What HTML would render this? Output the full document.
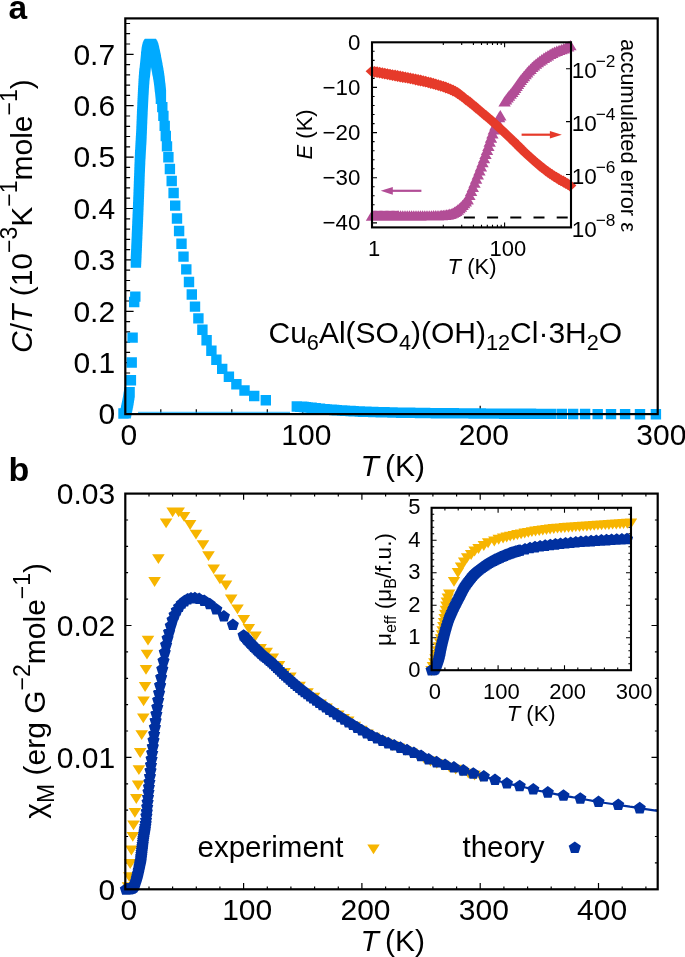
<!DOCTYPE html>
<html><head><meta charset="utf-8"><title>Figure</title>
<style>html,body{margin:0;padding:0;background:#fff;width:685px;height:957px;overflow:hidden}svg{display:block}</style>
</head><body>
<svg style="will-change:transform" width="685" height="957" viewBox="0 0 685 957"><g font-family='"Liberation Sans", sans-serif'>
<text x="8.5" y="18.6" font-size="33.5" text-anchor="start" font-weight="bold">a</text>
<text x="8.6" y="481.2" font-size="34" text-anchor="start" font-weight="bold">b</text>
<path d="M125.3 414.1L133.6 414.1M125.3 403.8L130.1 403.8M125.3 393.5L130.1 393.5M125.3 383.3L130.1 383.3M125.3 373L130.1 373M125.3 362.7L133.6 362.7M125.3 352.4L130.1 352.4M125.3 342.1L130.1 342.1M125.3 331.9L130.1 331.9M125.3 321.6L130.1 321.6M125.3 311.3L133.6 311.3M125.3 301L130.1 301M125.3 290.7L130.1 290.7M125.3 280.5L130.1 280.5M125.3 270.2L130.1 270.2M125.3 259.9L133.6 259.9M125.3 249.6L130.1 249.6M125.3 239.3L130.1 239.3M125.3 229.1L130.1 229.1M125.3 218.8L130.1 218.8M125.3 208.5L133.6 208.5M125.3 198.2L130.1 198.2M125.3 187.9L130.1 187.9M125.3 177.7L130.1 177.7M125.3 167.4L130.1 167.4M125.3 157.1L133.6 157.1M125.3 146.8L130.1 146.8M125.3 136.5L130.1 136.5M125.3 126.3L130.1 126.3M125.3 116L130.1 116M125.3 105.7L133.6 105.7M125.3 95.4L130.1 95.4M125.3 85.1L130.1 85.1M125.3 74.9L130.1 74.9M125.3 64.6L130.1 64.6M125.3 54.3L133.6 54.3M125.3 44L130.1 44M125.3 33.7L130.1 33.7M125.3 23.5L130.1 23.5M160.8 414.1L160.8 409.3M196.3 414.1L196.3 409.3M231.8 414.1L231.8 409.3M267.3 414.1L267.3 409.3M302.8 414.1L302.8 405.8M338.3 414.1L338.3 409.3M373.8 414.1L373.8 409.3M409.2 414.1L409.2 409.3M444.7 414.1L444.7 409.3M480.2 414.1L480.2 405.8M515.7 414.1L515.7 409.3M551.2 414.1L551.2 409.3M586.7 414.1L586.7 409.3M622.2 414.1L622.2 409.3" stroke="#000" stroke-width="1.2" fill="none"/>
<path d="M120.5 408.1h10.4v10.4h-10.4zM120.8 406.9h10.4v10.4h-10.4zM121 405.6h10.4v10.4h-10.4zM121.3 404.4h10.4v10.4h-10.4zM121.5 403.2h10.4v10.4h-10.4zM121.8 401.9h10.4v10.4h-10.4zM122 400.7h10.4v10.4h-10.4zM122.3 399.4h10.4v10.4h-10.4zM122.5 398.2h10.4v10.4h-10.4zM122.8 397h10.4v10.4h-10.4zM123 395.7h10.4v10.4h-10.4zM123.2 394.5h10.4v10.4h-10.4zM123.4 393.2h10.4v10.4h-10.4zM123.6 392h10.4v10.4h-10.4zM123.8 390.7h10.4v10.4h-10.4zM124 389.5h10.4v10.4h-10.4zM124.2 388.2h10.4v10.4h-10.4zM124.4 387h10.4v10.4h-10.4zM118.3 408.3h10.4v10.4h-10.4zM125.7 375.1h10.4v10.4h-10.4zM126.5 357.3h10.4v10.4h-10.4zM127.4 332.4h10.4v10.4h-10.4zM129 296.8h10.4v10.4h-10.4zM130.1 291.4h10.4v10.4h-10.4zM130.7 257.4h10.4v10.4h-10.4zM130.7 256.4h10.4v10.4h-10.4zM130.8 255.4h10.4v10.4h-10.4zM130.8 254.4h10.4v10.4h-10.4zM130.9 253.4h10.4v10.4h-10.4zM130.9 252.4h10.4v10.4h-10.4zM131 251.4h10.4v10.4h-10.4zM131 250.4h10.4v10.4h-10.4zM131.1 249.4h10.4v10.4h-10.4zM131.1 248.4h10.4v10.4h-10.4zM131.2 247.4h10.4v10.4h-10.4zM131.2 246.4h10.4v10.4h-10.4zM131.2 245.4h10.4v10.4h-10.4zM131.3 244.4h10.4v10.4h-10.4zM131.3 243.4h10.4v10.4h-10.4zM131.4 242.4h10.4v10.4h-10.4zM131.4 241.4h10.4v10.4h-10.4zM131.5 240.4h10.4v10.4h-10.4zM131.5 239.4h10.4v10.4h-10.4zM131.5 238.4h10.4v10.4h-10.4zM131.6 237.4h10.4v10.4h-10.4zM131.6 236.4h10.4v10.4h-10.4zM131.7 235.4h10.4v10.4h-10.4zM131.7 234.4h10.4v10.4h-10.4zM131.7 233.4h10.4v10.4h-10.4zM131.8 232.4h10.4v10.4h-10.4zM131.8 231.4h10.4v10.4h-10.4zM131.9 230.4h10.4v10.4h-10.4zM131.9 229.4h10.4v10.4h-10.4zM132 228.4h10.4v10.4h-10.4zM132 227.4h10.4v10.4h-10.4zM132 226.3h10.4v10.4h-10.4zM132.1 225.3h10.4v10.4h-10.4zM132.1 224.3h10.4v10.4h-10.4zM132.2 223.3h10.4v10.4h-10.4zM132.2 222.3h10.4v10.4h-10.4zM132.2 221.3h10.4v10.4h-10.4zM132.3 220.3h10.4v10.4h-10.4zM132.3 219.3h10.4v10.4h-10.4zM132.4 218.3h10.4v10.4h-10.4zM132.4 217.3h10.4v10.4h-10.4zM132.5 216.3h10.4v10.4h-10.4zM132.5 215.3h10.4v10.4h-10.4zM132.5 214.3h10.4v10.4h-10.4zM132.6 213.3h10.4v10.4h-10.4zM132.6 212.3h10.4v10.4h-10.4zM132.7 211.3h10.4v10.4h-10.4zM132.7 210.3h10.4v10.4h-10.4zM132.8 209.3h10.4v10.4h-10.4zM132.8 208.3h10.4v10.4h-10.4zM132.8 207.3h10.4v10.4h-10.4zM132.9 206.3h10.4v10.4h-10.4zM132.9 205.3h10.4v10.4h-10.4zM133 204.3h10.4v10.4h-10.4zM133 203.3h10.4v10.4h-10.4zM133 202.3h10.4v10.4h-10.4zM133.1 201.3h10.4v10.4h-10.4zM133.1 200.3h10.4v10.4h-10.4zM133.2 199.3h10.4v10.4h-10.4zM133.2 198.3h10.4v10.4h-10.4zM133.2 197.3h10.4v10.4h-10.4zM133.3 196.3h10.4v10.4h-10.4zM133.3 195.3h10.4v10.4h-10.4zM133.4 194.3h10.4v10.4h-10.4zM133.4 193.3h10.4v10.4h-10.4zM133.4 192.3h10.4v10.4h-10.4zM133.5 191.3h10.4v10.4h-10.4zM133.5 190.3h10.4v10.4h-10.4zM133.5 189.3h10.4v10.4h-10.4zM133.6 188.3h10.4v10.4h-10.4zM133.6 187.3h10.4v10.4h-10.4zM133.7 186.3h10.4v10.4h-10.4zM133.7 185.3h10.4v10.4h-10.4zM133.7 184.3h10.4v10.4h-10.4zM133.8 183.3h10.4v10.4h-10.4zM133.8 182.3h10.4v10.4h-10.4zM133.8 181.3h10.4v10.4h-10.4zM133.9 180.3h10.4v10.4h-10.4zM133.9 179.3h10.4v10.4h-10.4zM133.9 178.3h10.4v10.4h-10.4zM134 177.3h10.4v10.4h-10.4zM134 176.3h10.4v10.4h-10.4zM134.1 175.3h10.4v10.4h-10.4zM134.1 174.3h10.4v10.4h-10.4zM134.1 173.3h10.4v10.4h-10.4zM134.2 172.3h10.4v10.4h-10.4zM134.2 171.3h10.4v10.4h-10.4zM134.2 170.2h10.4v10.4h-10.4zM134.3 169.2h10.4v10.4h-10.4zM134.3 168.2h10.4v10.4h-10.4zM134.3 167.2h10.4v10.4h-10.4zM134.4 166.2h10.4v10.4h-10.4zM134.4 165.2h10.4v10.4h-10.4zM134.4 164.2h10.4v10.4h-10.4zM134.5 163.2h10.4v10.4h-10.4zM134.5 162.2h10.4v10.4h-10.4zM134.6 161.2h10.4v10.4h-10.4zM134.6 160.2h10.4v10.4h-10.4zM134.6 159.2h10.4v10.4h-10.4zM134.7 158.2h10.4v10.4h-10.4zM134.7 157.2h10.4v10.4h-10.4zM134.8 156.2h10.4v10.4h-10.4zM134.8 155.2h10.4v10.4h-10.4zM134.9 154.2h10.4v10.4h-10.4zM134.9 153.2h10.4v10.4h-10.4zM134.9 152.2h10.4v10.4h-10.4zM135 151.2h10.4v10.4h-10.4zM135 150.2h10.4v10.4h-10.4zM135.1 149.2h10.4v10.4h-10.4zM135.2 148.2h10.4v10.4h-10.4zM135.2 147.2h10.4v10.4h-10.4zM135.3 146.2h10.4v10.4h-10.4zM135.3 145.2h10.4v10.4h-10.4zM135.4 144.2h10.4v10.4h-10.4zM135.4 143.2h10.4v10.4h-10.4zM135.5 142.2h10.4v10.4h-10.4zM135.5 141.2h10.4v10.4h-10.4zM135.6 140.2h10.4v10.4h-10.4zM135.7 139.2h10.4v10.4h-10.4zM135.7 138.2h10.4v10.4h-10.4zM135.8 137.2h10.4v10.4h-10.4zM135.8 136.2h10.4v10.4h-10.4zM135.9 135.2h10.4v10.4h-10.4zM136 134.2h10.4v10.4h-10.4zM136 133.2h10.4v10.4h-10.4zM136.1 132.2h10.4v10.4h-10.4zM136.1 131.2h10.4v10.4h-10.4zM136.2 130.2h10.4v10.4h-10.4zM136.2 129.2h10.4v10.4h-10.4zM136.3 128.2h10.4v10.4h-10.4zM136.3 127.2h10.4v10.4h-10.4zM136.3 126.2h10.4v10.4h-10.4zM136.4 125.2h10.4v10.4h-10.4zM136.4 124.2h10.4v10.4h-10.4zM136.5 123.2h10.4v10.4h-10.4zM136.5 122.2h10.4v10.4h-10.4zM136.5 121.2h10.4v10.4h-10.4zM136.6 120.2h10.4v10.4h-10.4zM136.6 119.2h10.4v10.4h-10.4zM136.7 118.2h10.4v10.4h-10.4zM136.7 117.2h10.4v10.4h-10.4zM136.7 116.2h10.4v10.4h-10.4zM136.8 115.2h10.4v10.4h-10.4zM136.8 114.2h10.4v10.4h-10.4zM136.9 113.2h10.4v10.4h-10.4zM136.9 112.2h10.4v10.4h-10.4zM136.9 111.2h10.4v10.4h-10.4zM137 110.2h10.4v10.4h-10.4zM137 109.2h10.4v10.4h-10.4zM137.1 108.2h10.4v10.4h-10.4zM137.1 107.2h10.4v10.4h-10.4zM137.2 106.2h10.4v10.4h-10.4zM137.2 105.2h10.4v10.4h-10.4zM137.3 104.2h10.4v10.4h-10.4zM137.3 103.2h10.4v10.4h-10.4zM137.3 102.1h10.4v10.4h-10.4zM137.4 101.1h10.4v10.4h-10.4zM137.4 100.1h10.4v10.4h-10.4zM137.5 99.1h10.4v10.4h-10.4zM137.5 98.1h10.4v10.4h-10.4zM137.6 97.1h10.4v10.4h-10.4zM137.6 96.1h10.4v10.4h-10.4zM137.7 95.1h10.4v10.4h-10.4zM137.7 94.1h10.4v10.4h-10.4zM137.8 93.1h10.4v10.4h-10.4zM137.8 92.1h10.4v10.4h-10.4zM137.9 91.1h10.4v10.4h-10.4zM137.9 90.1h10.4v10.4h-10.4zM138 89.1h10.4v10.4h-10.4zM138 88.1h10.4v10.4h-10.4zM138.1 87.1h10.4v10.4h-10.4zM138.1 86.1h10.4v10.4h-10.4zM138.2 85.1h10.4v10.4h-10.4zM138.3 84.1h10.4v10.4h-10.4zM138.3 83.1h10.4v10.4h-10.4zM138.4 82.1h10.4v10.4h-10.4zM138.4 81.1h10.4v10.4h-10.4zM138.5 80.1h10.4v10.4h-10.4zM138.5 79.1h10.4v10.4h-10.4zM138.6 78.1h10.4v10.4h-10.4zM138.7 77.1h10.4v10.4h-10.4zM138.7 76.1h10.4v10.4h-10.4zM138.8 75.1h10.4v10.4h-10.4zM138.9 74.1h10.4v10.4h-10.4zM139 73.1h10.4v10.4h-10.4zM139 72.1h10.4v10.4h-10.4zM139.1 71.1h10.4v10.4h-10.4zM139.2 70.1h10.4v10.4h-10.4zM139.3 69.1h10.4v10.4h-10.4zM139.4 68.1h10.4v10.4h-10.4zM139.6 67.1h10.4v10.4h-10.4zM139.7 66.1h10.4v10.4h-10.4zM139.8 65.1h10.4v10.4h-10.4zM139.9 64.1h10.4v10.4h-10.4zM140 63.1h10.4v10.4h-10.4zM140.1 62.2h10.4v10.4h-10.4zM140.2 61.2h10.4v10.4h-10.4zM140.3 60.2h10.4v10.4h-10.4zM140.4 59.2h10.4v10.4h-10.4zM140.5 58.2h10.4v10.4h-10.4zM140.6 57.2h10.4v10.4h-10.4zM140.7 56.2h10.4v10.4h-10.4zM140.8 55.2h10.4v10.4h-10.4zM140.9 54.2h10.4v10.4h-10.4zM141 53.2h10.4v10.4h-10.4zM141 52.2h10.4v10.4h-10.4zM141.1 51.2h10.4v10.4h-10.4zM141.3 50.2h10.4v10.4h-10.4zM141.4 49.2h10.4v10.4h-10.4zM141.5 48.2h10.4v10.4h-10.4zM141.6 47.2h10.4v10.4h-10.4zM141.8 46.2h10.4v10.4h-10.4zM142 45.2h10.4v10.4h-10.4zM142.2 44.2h10.4v10.4h-10.4zM142.5 43.2h10.4v10.4h-10.4zM142.7 42.3h10.4v10.4h-10.4zM143.1 41.3h10.4v10.4h-10.4zM143.5 40.3h10.4v10.4h-10.4zM144.1 39.3h10.4v10.4h-10.4zM144.8 38.8h10.4v10.4h-10.4zM145.7 38.8h10.4v10.4h-10.4zM146.4 39.4h10.4v10.4h-10.4zM146.9 40.4h10.4v10.4h-10.4zM147.4 41.4h10.4v10.4h-10.4zM147.7 42.4h10.4v10.4h-10.4zM148 43.3h10.4v10.4h-10.4zM148.2 44.3h10.4v10.4h-10.4zM148.5 45.3h10.4v10.4h-10.4zM148.7 46.3h10.4v10.4h-10.4zM148.9 47.3h10.4v10.4h-10.4zM149.1 48.2h10.4v10.4h-10.4zM149.4 49.2h10.4v10.4h-10.4zM149.6 50.2h10.4v10.4h-10.4zM149.8 51.2h10.4v10.4h-10.4zM150 52.2h10.4v10.4h-10.4zM150.2 53.1h10.4v10.4h-10.4zM150.4 54.1h10.4v10.4h-10.4zM150.6 55.1h10.4v10.4h-10.4zM150.7 56.1h10.4v10.4h-10.4zM150.9 57.1h10.4v10.4h-10.4zM151.1 58.1h10.4v10.4h-10.4zM151.3 59.1h10.4v10.4h-10.4zM151.5 60h10.4v10.4h-10.4zM151.7 61h10.4v10.4h-10.4zM151.9 62h10.4v10.4h-10.4zM152.1 63h10.4v10.4h-10.4zM152.2 64h10.4v10.4h-10.4zM152.4 65h10.4v10.4h-10.4zM152.6 65.9h10.4v10.4h-10.4zM152.8 66.9h10.4v10.4h-10.4zM153 67.9h10.4v10.4h-10.4zM153.1 68.9h10.4v10.4h-10.4zM153.3 69.9h10.4v10.4h-10.4zM153.5 70.9h10.4v10.4h-10.4zM153.6 71.9h10.4v10.4h-10.4zM153.8 72.9h10.4v10.4h-10.4zM153.9 73.9h10.4v10.4h-10.4zM154 74.9h10.4v10.4h-10.4zM154.2 75.8h10.4v10.4h-10.4zM154.3 76.8h10.4v10.4h-10.4zM154.4 77.8h10.4v10.4h-10.4zM154.5 78.8h10.4v10.4h-10.4zM154.6 79.8h10.4v10.4h-10.4zM154.7 80.8h10.4v10.4h-10.4zM154.8 81.8h10.4v10.4h-10.4zM155 82.8h10.4v10.4h-10.4zM155.1 83.8h10.4v10.4h-10.4zM155.2 84.8h10.4v10.4h-10.4zM155.3 85.8h10.4v10.4h-10.4zM155.4 86.8h10.4v10.4h-10.4zM155.5 87.8h10.4v10.4h-10.4zM155.6 88.8h10.4v10.4h-10.4zM155.7 89.8h10.4v10.4h-10.4zM155.7 93.5h10.4v10.4h-10.4zM157.1 101.9h10.4v10.4h-10.4zM158.2 110.7h10.4v10.4h-10.4zM159.5 120.7h10.4v10.4h-10.4zM160.6 130.8h10.4v10.4h-10.4zM161.8 141.2h10.4v10.4h-10.4zM163.2 152.1h10.4v10.4h-10.4zM164.7 163.8h10.4v10.4h-10.4zM166.5 175.8h10.4v10.4h-10.4zM168.4 187.8h10.4v10.4h-10.4zM170 200.4h10.4v10.4h-10.4zM171.8 213.3h10.4v10.4h-10.4zM173.9 225.8h10.4v10.4h-10.4zM176.3 238.5h10.4v10.4h-10.4zM178.3 251.4h10.4v10.4h-10.4zM181.1 264.2h10.4v10.4h-10.4zM183.8 276.8h10.4v10.4h-10.4zM186.6 289.3h10.4v10.4h-10.4zM189.8 301.4h10.4v10.4h-10.4zM193.2 313.2h10.4v10.4h-10.4zM197.2 324.5h10.4v10.4h-10.4zM201.4 335.1h10.4v10.4h-10.4zM206.2 345.5h10.4v10.4h-10.4zM211.2 354.6h10.4v10.4h-10.4zM217 363.7h10.4v10.4h-10.4zM223.7 371.6h10.4v10.4h-10.4zM231.2 379h10.4v10.4h-10.4zM239.3 385.3h10.4v10.4h-10.4zM249 390.8h10.4v10.4h-10.4zM260.6 395.1h10.4v10.4h-10.4zM650.7 409h10.4v10.4h-10.4zM634.8 409h10.4v10.4h-10.4zM619.9 408.9h10.4v10.4h-10.4zM605.8 408.9h10.4v10.4h-10.4zM592.5 408.9h10.4v10.4h-10.4zM579.9 408.8h10.4v10.4h-10.4zM567.9 408.8h10.4v10.4h-10.4zM556.6 408.7h10.4v10.4h-10.4zM545.8 408.7h10.4v10.4h-10.4zM535.6 408.7h10.4v10.4h-10.4zM525.8 408.6h10.4v10.4h-10.4zM516.4 408.6h10.4v10.4h-10.4zM507.5 408.5h10.4v10.4h-10.4zM499 408.5h10.4v10.4h-10.4zM490.9 408.4h10.4v10.4h-10.4zM483 408.4h10.4v10.4h-10.4zM475.6 408.3h10.4v10.4h-10.4zM468.4 408.3h10.4v10.4h-10.4zM461.5 408.2h10.4v10.4h-10.4zM454.8 408.2h10.4v10.4h-10.4zM448.5 408.1h10.4v10.4h-10.4zM442.3 408.1h10.4v10.4h-10.4zM436.4 408h10.4v10.4h-10.4zM430.7 408h10.4v10.4h-10.4zM425.2 407.9h10.4v10.4h-10.4zM419.9 407.8h10.4v10.4h-10.4zM414.8 407.8h10.4v10.4h-10.4zM409.8 407.7h10.4v10.4h-10.4zM405 407.6h10.4v10.4h-10.4zM400.4 407.5h10.4v10.4h-10.4zM395.9 407.5h10.4v10.4h-10.4zM391.6 407.4h10.4v10.4h-10.4zM387.3 407.3h10.4v10.4h-10.4zM383.3 407.2h10.4v10.4h-10.4zM379.3 407.1h10.4v10.4h-10.4zM375.5 407h10.4v10.4h-10.4zM371.7 406.9h10.4v10.4h-10.4zM368.1 406.8h10.4v10.4h-10.4zM364.6 406.7h10.4v10.4h-10.4zM361.2 406.6h10.4v10.4h-10.4zM357.8 406.5h10.4v10.4h-10.4zM354.6 406.3h10.4v10.4h-10.4zM351.5 406.2h10.4v10.4h-10.4zM348.4 406h10.4v10.4h-10.4zM345.4 405.8h10.4v10.4h-10.4zM342.5 405.7h10.4v10.4h-10.4zM339.7 405.5h10.4v10.4h-10.4zM336.9 405.3h10.4v10.4h-10.4zM334.2 405.2h10.4v10.4h-10.4zM331.6 405h10.4v10.4h-10.4zM329 404.8h10.4v10.4h-10.4zM326.5 404.6h10.4v10.4h-10.4zM324.1 404.5h10.4v10.4h-10.4zM321.7 404.3h10.4v10.4h-10.4zM319.4 404.1h10.4v10.4h-10.4zM317.1 403.9h10.4v10.4h-10.4zM314.8 403.6h10.4v10.4h-10.4zM312.7 403.4h10.4v10.4h-10.4zM310.5 403.1h10.4v10.4h-10.4zM308.5 402.9h10.4v10.4h-10.4zM306.4 402.6h10.4v10.4h-10.4zM304.4 402.4h10.4v10.4h-10.4zM302.5 402.2h10.4v10.4h-10.4zM300.6 402h10.4v10.4h-10.4zM298.7 401.8h10.4v10.4h-10.4zM296.9 401.6h10.4v10.4h-10.4zM295.1 401.5h10.4v10.4h-10.4zM293.3 401.4h10.4v10.4h-10.4zM291.6 401.3h10.4v10.4h-10.4z" fill="#00AAFF"/>
<path d="M138 412.4H290" stroke="#00AAFF" stroke-width="1.3" stroke-opacity="0.7"/>
<rect x="125.3" y="18.4" width="532.4" height="395.7" fill="none" stroke="#000" stroke-width="2.2"/>
<text x="115.1" y="424.4" font-size="30" text-anchor="end">0</text>
<text x="115.1" y="373" font-size="30" text-anchor="end">0.1</text>
<text x="115.1" y="321.6" font-size="30" text-anchor="end">0.2</text>
<text x="115.1" y="270.2" font-size="30" text-anchor="end">0.3</text>
<text x="115.1" y="218.8" font-size="30" text-anchor="end">0.4</text>
<text x="115.1" y="167.4" font-size="30" text-anchor="end">0.5</text>
<text x="115.1" y="116" font-size="30" text-anchor="end">0.6</text>
<text x="115.1" y="64.6" font-size="30" text-anchor="end">0.7</text>
<text x="128.9" y="445.2" font-size="30" text-anchor="middle">0</text>
<text x="306.4" y="445.2" font-size="30" text-anchor="middle">100</text>
<text x="483.8" y="445.2" font-size="30" text-anchor="middle">200</text>
<text x="661.3" y="445.2" font-size="30" text-anchor="middle">300</text>
<text x="360.6" y="475.6" font-size="30"><tspan font-style="italic">T</tspan><tspan dx="-2.3"> (K)</tspan></text>
<text transform="translate(31.5,353) rotate(-90)" font-size="30"><tspan font-style="italic">C</tspan>/<tspan font-style="italic">T</tspan> (10<tspan font-size="23" dy="-14.6">−3</tspan><tspan dy="14.6">K</tspan><tspan font-size="23" dy="-14.6">−1</tspan><tspan dy="14.6">mole</tspan><tspan font-size="23" dy="-14.6">−1</tspan><tspan dy="14.6">)</tspan></text>
<text x="268.5" y="342.6" font-size="30">Cu<tspan font-size="21.7" dy="7.6">6</tspan><tspan dy="-7.6">Al(SO</tspan><tspan font-size="21.7" dy="7.6">4</tspan><tspan dy="-7.6">)(OH)</tspan><tspan font-size="21.7" dy="7.6">12</tspan><tspan dy="-7.6">Cl·3H</tspan><tspan font-size="21.7" dy="7.6">2</tspan><tspan dy="-7.6">O</tspan></text>
<rect x="372" y="42.3" width="199" height="185.10000000000002" fill="#fff"/>
<path d="M372 51.3L374.6 51.3M372 60.4L374.6 60.4M372 69.4L374.6 69.4M372 78.4L374.6 78.4M372 87.4L377 87.4M372 96.5L374.6 96.5M372 105.5L374.6 105.5M372 114.5L374.6 114.5M372 123.6L374.6 123.6M372 132.6L377 132.6M372 141.6L374.6 141.6M372 150.7L374.6 150.7M372 159.7L374.6 159.7M372 168.7L374.6 168.7M372 177.7L377 177.7M372 186.8L374.6 186.8M372 195.8L374.6 195.8M372 204.8L374.6 204.8M372 213.9L374.6 213.9M372 222.9L377 222.9M443.3 227.4L443.3 224.8M443.3 42.3L443.3 44.9M461.7 227.4L461.7 224.8M461.7 42.3L461.7 44.9M473.4 227.4L473.4 224.8M473.4 42.3L473.4 44.9M481.5 227.4L481.5 224.8M481.5 42.3L481.5 44.9M487.3 227.4L487.3 224.8M487.3 42.3L487.3 44.9M492.5 227.4L492.5 224.8M492.5 42.3L492.5 44.9M497.4 227.4L497.4 224.8M497.4 42.3L497.4 44.9M501.2 227.4L501.2 224.8M501.2 42.3L501.2 44.9M504.6 227.4L504.6 222.4M504.6 42.3L504.6 47.3M571 68.7L566 68.7M571 121.6L566 121.6M571 174.5L566 174.5" stroke="#000" stroke-width="1.1" fill="none"/>
<path d="M463.9 217.5H571" stroke="#000" stroke-width="2.2" stroke-dasharray="11 12.2"/>
<path d="M372 210.3L378.2 220.7L365.8 220.7zM373.2 210.3L379.4 220.7L367 220.7zM374.4 210.3L380.6 220.7L368.2 220.7zM375.6 210.3L381.8 220.7L369.4 220.7zM376.8 210.3L383 220.7L370.6 220.7zM378 210.3L384.2 220.7L371.8 220.7zM379.2 210.3L385.4 220.7L373 220.7zM380.4 210.3L386.6 220.7L374.2 220.7zM381.6 210.3L387.8 220.7L375.4 220.7zM382.8 210.3L389 220.7L376.6 220.7zM384 210.3L390.2 220.7L377.8 220.7zM385.2 210.3L391.4 220.7L379 220.7zM386.4 210.3L392.6 220.7L380.2 220.7zM387.6 210.3L393.8 220.7L381.4 220.7zM388.8 210.3L395 220.7L382.6 220.7zM390 210.3L396.2 220.7L383.8 220.7zM391.2 210.3L397.4 220.7L385 220.7zM392.4 210.3L398.6 220.7L386.2 220.7zM393.6 210.3L399.8 220.7L387.4 220.7zM394.8 210.3L401 220.7L388.6 220.7zM396 210.3L402.2 220.7L389.8 220.7zM397.2 210.3L403.4 220.7L391 220.7zM398.4 210.3L404.6 220.7L392.2 220.7zM400.6 210.3L406.8 220.7L394.4 220.7zM402.8 210.3L409 220.7L396.6 220.7zM405 210.3L411.2 220.7L398.8 220.7zM407.2 210.3L413.4 220.7L401 220.7zM409.4 210.3L415.6 220.7L403.2 220.7zM411.6 210.3L417.8 220.7L405.4 220.7zM413.8 210.3L420 220.7L407.6 220.7zM416 210.3L422.2 220.7L409.8 220.7zM418.2 210.3L424.4 220.7L412 220.7zM420.4 210.3L426.6 220.7L414.2 220.7zM422.6 210.2L428.8 220.6L416.4 220.6zM424.8 210.2L431 220.6L418.6 220.6zM427 210.2L433.2 220.6L420.8 220.6zM429.2 210.2L435.4 220.6L423 220.6zM431.4 210.2L437.6 220.6L425.2 220.6zM433.6 210.1L439.8 220.5L427.4 220.5zM435.8 210.1L442 220.5L429.6 220.5zM438 210L444.2 220.4L431.8 220.4zM440.2 209.9L446.4 220.3L434 220.3zM441.8 209.8L448 220.2L435.6 220.2zM443.4 209.7L449.6 220.1L437.2 220.1zM445 209.5L451.2 219.9L438.8 219.9zM446.6 209.3L452.8 219.7L440.4 219.7zM448.2 209L454.4 219.4L442 219.4zM449.8 208.6L456 219L443.6 219zM451.4 208.2L457.6 218.6L445.2 218.6zM453 207.4L459.2 217.8L446.8 217.8zM454.6 206.5L460.8 216.9L448.4 216.9zM456.2 205.5L462.4 215.9L450 215.9zM457.8 204.3L464 214.7L451.6 214.7zM459.4 202.9L465.6 213.3L453.2 213.3zM461 201.4L467.2 211.8L454.8 211.8zM462.6 199.7L468.8 210.1L456.4 210.1zM464.2 197.9L470.4 208.3L458 208.3zM465.8 196L472 206.4L459.6 206.4zM467.4 194L473.6 204.4L461.2 204.4zM467.6 193.8L473.8 204.2L461.4 204.2zM469.4 189.7L475.6 200.1L463.2 200.1zM471.1 185.6L477.3 196L464.9 196zM472.8 181.5L479 191.9L466.6 191.9zM474.5 177.4L480.7 187.8L468.3 187.8zM476.1 173.3L482.3 183.7L469.9 183.7zM477.8 169.2L484 179.6L471.6 179.6zM479.4 165.1L485.6 175.5L473.2 175.5zM480.9 161L487.1 171.4L474.7 171.4zM482.5 156.9L488.7 167.3L476.3 167.3zM484 152.8L490.2 163.2L477.8 163.2zM485.5 148.7L491.7 159.1L479.3 159.1zM487 144.6L493.2 155L480.8 155zM488.4 140.5L494.6 150.9L482.2 150.9zM489.7 136.4L495.9 146.8L483.5 146.8zM491 132.3L497.2 142.7L484.8 142.7zM492.4 128.2L498.6 138.6L486.2 138.6zM493.8 124.1L500 134.5L487.6 134.5zM495.4 120L501.6 130.4L489.2 130.4zM497.1 115.9L503.3 126.3L490.9 126.3zM499.1 111.8L505.3 122.2L492.9 122.2zM500.3 110.1L506.5 120.5L494.1 120.5zM504.6 96.2L510.8 106.6L498.4 106.6zM506.1 94.2L512.3 104.6L499.9 104.6zM507.6 92.2L513.8 102.6L501.4 102.6zM509.1 90.3L515.3 100.7L502.9 100.7zM510.7 88.4L516.9 98.8L504.5 98.8zM512.3 86.6L518.5 97L506.1 97zM513.8 84.6L520 95L507.6 95zM515.2 82.6L521.4 93L509 93zM516.6 80.6L522.8 91L510.4 91zM518 78.5L524.2 88.9L511.8 88.9zM519.4 76.6L525.6 87L513.2 87zM520.9 74.6L527.1 85L514.7 85zM522.4 72.7L528.6 83.1L516.2 83.1zM524 70.8L530.2 81.2L517.8 81.2zM525.6 68.9L531.8 79.3L519.4 79.3zM527.2 67L533.4 77.4L521 77.4zM528.8 65.2L535 75.6L522.6 75.6zM530.6 63.5L536.8 73.9L524.4 73.9zM532.3 61.7L538.5 72.1L526.1 72.1zM534.1 60.1L540.3 70.5L527.9 70.5zM536 58.4L542.2 68.8L529.8 68.8zM537.9 56.9L544.1 67.3L531.7 67.3zM539.8 55.4L546 65.8L533.6 65.8zM541.8 54L548 64.4L535.6 64.4zM543.9 52.6L550.1 63L537.7 63zM545.9 51.3L552.1 61.7L539.7 61.7zM548 50L554.2 60.4L541.8 60.4zM550.2 48.7L556.4 59.1L544 59.1zM552.3 47.5L558.5 57.9L546.1 57.9zM554.5 46.4L560.7 56.8L548.3 56.8zM556.8 45.5L563 55.9L550.6 55.9zM559.1 44.7L565.3 55.1L552.9 55.1zM561.4 43.9L567.6 54.3L555.2 54.3zM563.7 43L569.9 53.4L557.5 53.4zM566 42L572.2 52.4L559.8 52.4zM568.2 41L574.4 51.4L562 51.4zM570.4 39.9L576.6 50.3L564.2 50.3z" fill="#B24D96"/>
<path d="M365.6 71.3l6.4 -5.9l6.4 5.9l-6.4 5.9zM368.2 71.8l6.4 -5.9l6.4 5.9l-6.4 5.9zM370.7 72.2l6.4 -5.9l6.4 5.9l-6.4 5.9zM373.3 72.7l6.4 -5.9l6.4 5.9l-6.4 5.9zM375.9 73.2l6.4 -5.9l6.4 5.9l-6.4 5.9zM378.4 73.6l6.4 -5.9l6.4 5.9l-6.4 5.9zM381 74.1l6.4 -5.9l6.4 5.9l-6.4 5.9zM383.6 74.6l6.4 -5.9l6.4 5.9l-6.4 5.9zM386.1 75.1l6.4 -5.9l6.4 5.9l-6.4 5.9zM388.7 75.5l6.4 -5.9l6.4 5.9l-6.4 5.9zM391.2 76l6.4 -5.9l6.4 5.9l-6.4 5.9zM393.8 76.5l6.4 -5.9l6.4 5.9l-6.4 5.9zM396.4 77l6.4 -5.9l6.4 5.9l-6.4 5.9zM398.9 77.4l6.4 -5.9l6.4 5.9l-6.4 5.9zM401.5 77.9l6.4 -5.9l6.4 5.9l-6.4 5.9zM404 78.4l6.4 -5.9l6.4 5.9l-6.4 5.9zM406.6 78.9l6.4 -5.9l6.4 5.9l-6.4 5.9zM409.2 79.5l6.4 -5.9l6.4 5.9l-6.4 5.9zM411.7 80l6.4 -5.9l6.4 5.9l-6.4 5.9zM414.3 80.5l6.4 -5.9l6.4 5.9l-6.4 5.9zM416.8 81.1l6.4 -5.9l6.4 5.9l-6.4 5.9zM419.3 81.7l6.4 -5.9l6.4 5.9l-6.4 5.9zM421.9 82.3l6.4 -5.9l6.4 5.9l-6.4 5.9zM424.4 83l6.4 -5.9l6.4 5.9l-6.4 5.9zM426.9 83.7l6.4 -5.9l6.4 5.9l-6.4 5.9zM429.4 84.4l6.4 -5.9l6.4 5.9l-6.4 5.9zM431.9 85.1l6.4 -5.9l6.4 5.9l-6.4 5.9zM434.4 85.8l6.4 -5.9l6.4 5.9l-6.4 5.9zM436.9 86.6l6.4 -5.9l6.4 5.9l-6.4 5.9zM439.4 87.5l6.4 -5.9l6.4 5.9l-6.4 5.9zM441.8 88.4l6.4 -5.9l6.4 5.9l-6.4 5.9zM444.2 89.4l6.4 -5.9l6.4 5.9l-6.4 5.9zM446.6 90.5l6.4 -5.9l6.4 5.9l-6.4 5.9zM448.9 91.7l6.4 -5.9l6.4 5.9l-6.4 5.9zM451.1 93l6.4 -5.9l6.4 5.9l-6.4 5.9zM453.3 94.5l6.4 -5.9l6.4 5.9l-6.4 5.9zM455.4 96.1l6.4 -5.9l6.4 5.9l-6.4 5.9zM457.4 97.7l6.4 -5.9l6.4 5.9l-6.4 5.9zM459.4 99.4l6.4 -5.9l6.4 5.9l-6.4 5.9zM461.5 100.9l6.4 -5.9l6.4 5.9l-6.4 5.9zM463.6 102.5l6.4 -5.9l6.4 5.9l-6.4 5.9zM465.6 104.1l6.4 -5.9l6.4 5.9l-6.4 5.9zM467.6 105.8l6.4 -5.9l6.4 5.9l-6.4 5.9zM469.6 107.5l6.4 -5.9l6.4 5.9l-6.4 5.9zM471.6 109.2l6.4 -5.9l6.4 5.9l-6.4 5.9zM473.6 110.9l6.4 -5.9l6.4 5.9l-6.4 5.9zM475.6 112.6l6.4 -5.9l6.4 5.9l-6.4 5.9zM477.6 114.3l6.4 -5.9l6.4 5.9l-6.4 5.9zM479.6 115.9l6.4 -5.9l6.4 5.9l-6.4 5.9zM481.6 117.6l6.4 -5.9l6.4 5.9l-6.4 5.9zM483.6 119.3l6.4 -5.9l6.4 5.9l-6.4 5.9zM485.5 121l6.4 -5.9l6.4 5.9l-6.4 5.9zM487.5 122.7l6.4 -5.9l6.4 5.9l-6.4 5.9zM489.4 124.5l6.4 -5.9l6.4 5.9l-6.4 5.9zM491.3 126.2l6.4 -5.9l6.4 5.9l-6.4 5.9zM493.2 128l6.4 -5.9l6.4 5.9l-6.4 5.9zM495.2 129.8l6.4 -5.9l6.4 5.9l-6.4 5.9zM497 131.6l6.4 -5.9l6.4 5.9l-6.4 5.9zM498.9 133.4l6.4 -5.9l6.4 5.9l-6.4 5.9zM500.8 135.2l6.4 -5.9l6.4 5.9l-6.4 5.9zM502.7 137l6.4 -5.9l6.4 5.9l-6.4 5.9zM504.6 138.8l6.4 -5.9l6.4 5.9l-6.4 5.9zM506.5 140.6l6.4 -5.9l6.4 5.9l-6.4 5.9zM508.3 142.4l6.4 -5.9l6.4 5.9l-6.4 5.9zM510.2 144.2l6.4 -5.9l6.4 5.9l-6.4 5.9zM512 146.1l6.4 -5.9l6.4 5.9l-6.4 5.9zM513.9 147.9l6.4 -5.9l6.4 5.9l-6.4 5.9zM515.7 149.8l6.4 -5.9l6.4 5.9l-6.4 5.9zM517.6 151.6l6.4 -5.9l6.4 5.9l-6.4 5.9zM519.5 153.4l6.4 -5.9l6.4 5.9l-6.4 5.9zM521.4 155.1l6.4 -5.9l6.4 5.9l-6.4 5.9zM523.3 156.9l6.4 -5.9l6.4 5.9l-6.4 5.9zM525.3 158.6l6.4 -5.9l6.4 5.9l-6.4 5.9zM527.2 160.4l6.4 -5.9l6.4 5.9l-6.4 5.9zM529.2 162.1l6.4 -5.9l6.4 5.9l-6.4 5.9zM531.2 163.8l6.4 -5.9l6.4 5.9l-6.4 5.9zM533.2 165.5l6.4 -5.9l6.4 5.9l-6.4 5.9zM535.2 167.1l6.4 -5.9l6.4 5.9l-6.4 5.9zM537.2 168.7l6.4 -5.9l6.4 5.9l-6.4 5.9zM539.3 170.3l6.4 -5.9l6.4 5.9l-6.4 5.9zM541.4 171.9l6.4 -5.9l6.4 5.9l-6.4 5.9zM543.5 173.4l6.4 -5.9l6.4 5.9l-6.4 5.9zM545.7 174.8l6.4 -5.9l6.4 5.9l-6.4 5.9zM547.9 176.3l6.4 -5.9l6.4 5.9l-6.4 5.9zM550.1 177.7l6.4 -5.9l6.4 5.9l-6.4 5.9zM552.3 179l6.4 -5.9l6.4 5.9l-6.4 5.9zM554.6 180.3l6.4 -5.9l6.4 5.9l-6.4 5.9zM556.9 181.5l6.4 -5.9l6.4 5.9l-6.4 5.9zM559.1 182.8l6.4 -5.9l6.4 5.9l-6.4 5.9zM561.4 184.1l6.4 -5.9l6.4 5.9l-6.4 5.9zM563.6 185.5l6.4 -5.9l6.4 5.9l-6.4 5.9z" fill="#E63A2A"/>
<path d="M421.4 190.8H390" stroke="#B24D96" stroke-width="2.2"/>
<path d="M380.7 190.8L392.8 186.9L392.8 194.8z" fill="#B24D96"/>
<path d="M521.6 134.7H551" stroke="#E63A2A" stroke-width="2.2"/>
<path d="M561.8 134.7L549.9 131.1L549.9 138.4z" fill="#E63A2A"/>
<rect x="372" y="42.3" width="199" height="185.1" fill="none" stroke="#000" stroke-width="2.1"/>
<text x="360.4" y="49.5" font-size="22.3" text-anchor="end">0</text>
<text x="360.4" y="94.6" font-size="22.3" text-anchor="end">−10</text>
<text x="360.4" y="139.8" font-size="22.3" text-anchor="end">−20</text>
<text x="360.4" y="184.9" font-size="22.3" text-anchor="end">−30</text>
<text x="360.4" y="230.1" font-size="22.3" text-anchor="end">−40</text>
<text x="374.2" y="256" font-size="22" text-anchor="middle">1</text>
<text x="507.8" y="256" font-size="22" text-anchor="middle">100</text>
<text x="447.6" y="274.4" font-size="22"><tspan font-style="italic">T</tspan> (K)</text>
<text transform="translate(312,159.5) rotate(-90)" font-size="22"><tspan font-style="italic">E</tspan> (K)</text>
<text x="571.8" y="78.4" font-size="22.5">10<tspan font-size="17.3" dy="-11.3" dx="-1.2">−2</tspan></text>
<text x="571.8" y="131.3" font-size="22.5">10<tspan font-size="17.3" dy="-11.3" dx="-1.2">−4</tspan></text>
<text x="571.8" y="184.2" font-size="22.5">10<tspan font-size="17.3" dy="-11.3" dx="-1.2">−6</tspan></text>
<text x="571.8" y="237.1" font-size="22.5">10<tspan font-size="17.3" dy="-11.3" dx="-1.2">−8</tspan></text>
<text transform="translate(620.5,38.9) rotate(90)" font-size="22">accumulated error ε</text>
<path d="M125.3 862.9L128.1 862.9M657.7 862.9L654.9 862.9M125.3 836.5L128.1 836.5M657.7 836.5L654.9 836.5M125.3 810.2L128.1 810.2M657.7 810.2L654.9 810.2M125.3 783.8L128.1 783.8M657.7 783.8L654.9 783.8M125.3 757.4L131.5 757.4M657.7 757.4L651.5 757.4M125.3 731L128.1 731M657.7 731L654.9 731M125.3 704.6L128.1 704.6M657.7 704.6L654.9 704.6M125.3 678.3L128.1 678.3M657.7 678.3L654.9 678.3M125.3 651.9L128.1 651.9M657.7 651.9L654.9 651.9M125.3 625.5L131.5 625.5M657.7 625.5L651.5 625.5M125.3 599.1L128.1 599.1M657.7 599.1L654.9 599.1M125.3 572.7L128.1 572.7M657.7 572.7L654.9 572.7M125.3 546.4L128.1 546.4M657.7 546.4L654.9 546.4M125.3 520L128.1 520M657.7 520L654.9 520M149 889.3L149 886.5M149 493.6L149 496.4M172.6 889.3L172.6 886.5M172.6 493.6L172.6 496.4M196.3 889.3L196.3 886.5M196.3 493.6L196.3 496.4M219.9 889.3L219.9 886.5M219.9 493.6L219.9 496.4M243.6 889.3L243.6 883.1M243.6 493.6L243.6 499.8M267.3 889.3L267.3 886.5M267.3 493.6L267.3 496.4M290.9 889.3L290.9 886.5M290.9 493.6L290.9 496.4M314.6 889.3L314.6 886.5M314.6 493.6L314.6 496.4M338.3 889.3L338.3 886.5M338.3 493.6L338.3 496.4M361.9 889.3L361.9 883.1M361.9 493.6L361.9 499.8M385.6 889.3L385.6 886.5M385.6 493.6L385.6 496.4M409.2 889.3L409.2 886.5M409.2 493.6L409.2 496.4M432.9 889.3L432.9 886.5M432.9 493.6L432.9 496.4M456.6 889.3L456.6 886.5M456.6 493.6L456.6 496.4M480.2 889.3L480.2 883.1M480.2 493.6L480.2 499.8M503.9 889.3L503.9 886.5M503.9 493.6L503.9 496.4M527.6 889.3L527.6 886.5M527.6 493.6L527.6 496.4M551.2 889.3L551.2 886.5M551.2 493.6L551.2 496.4M574.9 889.3L574.9 886.5M574.9 493.6L574.9 496.4M598.5 889.3L598.5 883.1M598.5 493.6L598.5 499.8M622.2 889.3L622.2 886.5M622.2 493.6L622.2 496.4M645.9 889.3L645.9 886.5M645.9 493.6L645.9 496.4" stroke="#000" stroke-width="1.2" fill="none"/>
<path d="M121.7 882.2L134.3 882.2L128 892zM123 872.2L135.6 872.2L129.3 882zM123.9 859.1L136.5 859.1L130.2 868.9zM125.1 845.6L137.7 845.6L131.4 855.4zM126.5 832L139.1 832L132.8 841.8zM127.2 820.5L139.8 820.5L133.5 830.3zM128.6 808L141.2 808L134.9 817.8zM130 794.1L142.6 794.1L136.3 803.9zM131.8 780.6L144.4 780.6L138.1 790.4zM132.6 765.2L145.2 765.2L138.9 775zM133.9 748.1L146.5 748.1L140.2 757.9zM135.4 730.2L148 730.2L141.7 740zM137 713.5L149.6 713.5L143.3 723.3zM137.3 696.4L149.9 696.4L143.6 706.2zM138.8 682.1L151.4 682.1L145.1 691.9zM139.7 665L152.3 665L146 674.8zM140.7 649.7L153.3 649.7L147 659.5zM141.7 635.7L154.3 635.7L148 645.5zM148.3 577.1L160.9 577.1L154.6 586.9zM152.1 554.3L164.7 554.3L158.4 564.1zM159.8 518.4L172.4 518.4L166.1 528.2zM166.3 507.4L178.9 507.4L172.6 517.2zM172.4 507.4L185 507.4L178.7 517.2zM177.7 511.9L190.3 511.9L184 521.7zM183.8 520.1L196.4 520.1L190.1 529.9zM189.7 529.8L202.3 529.8L196 539.6zM196.7 540.3L209.3 540.3L203 550.1zM202.2 551.3L214.8 551.3L208.5 561.1zM207.4 564.5L220 564.5L213.7 574.3zM213.6 574.5L226.2 574.5L219.9 584.3zM219.7 580.6L232.3 580.6L226 590.4zM224.9 594.6L237.5 594.6L231.2 604.4zM231.2 604.5L243.8 604.5L237.5 614.3zM237.5 615L250.1 615L243.8 624.8zM242.5 624L255.1 624L248.8 633.8zM249.2 631.4L261.8 631.4L255.5 641.2zM254.3 644.1L266.9 644.1L260.6 653.9zM260.4 647.7L273 647.7L266.7 657.5zM266.5 653.6L279.1 653.6L272.8 663.4zM272.7 661L285.3 661L279 670.8zM278.3 668.1L290.9 668.1L284.6 677.9zM284.1 672.5L296.7 672.5L290.4 682.3zM293.3 681.7L305.9 681.7L299.6 691.5zM301.2 688.2L313.8 688.2L307.5 698zM307.7 692.8L320.3 692.8L314 702.6zM314.3 699.4L326.9 699.4L320.6 709.2zM320.2 703.4L332.8 703.4L326.5 713.2zM326.8 708L339.4 708L333.1 717.8zM332 710.6L344.6 710.6L338.3 720.4zM337.3 713.9L349.9 713.9L343.6 723.7zM341.9 716.5L354.5 716.5L348.2 726.3zM348.5 721.8L361.1 721.8L354.8 731.6zM355 725.7L367.6 725.7L361.3 735.5zM361.2 729.4L373.8 729.4L367.5 739.2zM367.5 732.8L380.1 732.8L373.8 742.6zM373.8 735.9L386.4 735.9L380.1 745.7zM380.1 738.7L392.7 738.7L386.4 748.5zM386.4 741.2L399 741.2L392.7 751zM392.7 743.6L405.3 743.6L399 753.4zM399 746L411.6 746L405.3 755.8zM405.3 748.4L417.9 748.4L411.6 758.2zM411.6 751.1L424.2 751.1L417.9 760.9zM417.9 754L430.5 754L424.2 763.8zM424.2 756.6L436.8 756.6L430.5 766.4zM430.5 758.9L443.1 758.9L436.8 768.7zM436.8 760.8L449.4 760.8L443.1 770.6zM443.1 762.7L455.7 762.7L449.4 772.5zM449.4 764.7L462 764.7L455.7 774.5zM455.7 766.8L468.3 766.8L462 776.6zM462 768.8L474.6 768.8L468.3 778.6zM468.3 770.6L480.9 770.6L474.6 780.4zM474.6 772.3L487.2 772.3L480.9 782.1z" fill="#F7B500"/>
<path d="M243.6 635.5L247.1 639.5L250.6 643.3L254 646.9L257.5 650.3L261 653.6L264.5 656.6L268 659.4L271.4 662.4L274.9 665.7L278.4 669.1L281.9 672.5L285.4 675.8L288.8 679L292.3 682L295.8 685L299.3 687.9L302.8 690.7L306.2 693.4L309.7 695.9L313.2 698.5L316.7 701L320.2 703.4L323.6 705.9L327.1 708.3L330.6 710.6L334.1 713L337.6 715.2L341 717.5L344.5 719.7L348 721.9L351.5 724.1L355 726.3L358.4 728.4L361.9 730.5L365.4 732.4L368.9 734.3L372.4 736.2L375.8 737.9L379.3 739.5L382.8 741L386.3 742.4L389.8 743.8L393.2 745.1L396.7 746.4L400.2 747.6L403.7 748.9L407.2 750.2L410.6 751.6L414.1 753L417.6 754.5L421.1 756L424.6 757.6L428 759.1L431.5 760.4L435 761.6L438.5 762.8L442 763.9L445.4 764.9L448.9 765.9L452.4 767L455.9 768.1L459.3 769.2L462.8 770.4L466.3 771.5L469.8 772.5L473.3 773.6L476.7 774.5L480.2 775.4L483.7 776.3L487.2 777.4L490.7 778.5L494.1 779.6L497.6 780.7L501.1 781.8L504.6 782.8L508.1 783.6L511.5 784.4L515 785.1L518.5 785.8L522 786.6L525.5 787.5L528.9 788.4L532.4 789.2L535.9 790L539.4 790.8L542.9 791.5L546.3 792.2L549.8 792.9L553.3 793.7L556.8 794.4L560.3 795.1L563.7 795.7L567.2 796.3L570.7 796.9L574.2 797.5L577.7 798.1L581.1 798.7L584.6 799.4L588.1 800L591.6 800.7L595.1 801.3L598.5 801.9L602 802.5L605.5 803L609 803.5L612.5 804L615.9 804.5L619.4 805L622.9 805.6L626.4 806.1L629.9 806.7L633.3 807.2L636.8 807.8L640.3 808.3L643.8 808.8L647.3 809.3L650.7 809.8L654.2 810.3L657.7 810.8" stroke="#0030A0" stroke-width="2.2" fill="none"/>
<path d="M125.9 883.1L132 887.5L129.7 894.7L122.1 894.7L119.8 887.5zM126.7 883.1L132.8 887.5L130.5 894.7L122.9 894.7L120.6 887.5zM127.5 883L133.6 887.5L131.3 894.6L123.7 894.6L121.4 887.5zM128.3 882.9L134.4 887.3L132 894.5L124.5 894.5L122.2 887.3zM129.1 882.8L135.2 887.2L132.8 894.4L125.3 894.4L123 887.2zM129.9 882.6L136 887L133.6 894.2L126.1 894.2L123.8 887zM130.7 882.4L136.7 886.8L134.4 894L126.9 894L124.6 886.8zM131.4 882.1L137.5 886.6L135.2 893.7L127.7 893.7L125.3 886.6zM132.2 881.8L138.3 886.2L135.9 893.4L128.4 893.4L126.1 886.2zM132.9 881.4L139 885.8L136.6 892.9L129.1 892.9L126.8 885.8zM133.5 880.8L139.6 885.2L137.3 892.4L129.8 892.4L127.4 885.2zM134.1 880.2L140.2 884.6L137.8 891.8L130.3 891.8L128 884.6zM134.6 879.4L140.7 883.8L138.4 891L130.9 891L128.5 883.8zM135 878.7L141.1 883.1L138.8 890.2L131.2 890.2L128.9 883.1zM135.3 877.8L141.4 882.3L139.1 889.4L131.6 889.4L129.2 882.3zM135.6 877.1L141.7 881.5L139.3 888.6L131.8 888.6L129.5 881.5zM135.9 876.2L142 880.6L139.6 887.8L132.1 887.8L129.8 880.6zM136.2 875.3L142.2 879.7L139.9 886.8L132.4 886.8L130.1 879.7zM136.5 874.2L142.5 878.7L140.2 885.8L132.7 885.8L130.4 878.7zM136.8 873.1L142.9 877.5L140.5 884.7L133 884.7L130.7 877.5zM137 872.2L143.1 876.6L140.8 883.8L133.3 883.8L130.9 876.6zM137.3 871.2L143.3 875.7L141 882.8L133.5 882.8L131.2 875.7zM137.5 870.2L143.6 874.6L141.3 881.8L133.7 881.8L131.4 874.6zM137.8 869L143.8 873.5L141.5 880.6L134 880.6L131.7 873.5zM138 867.8L144.1 872.2L141.8 879.4L134.3 879.4L131.9 872.2zM138.3 866.5L144.4 870.9L142.1 878.1L134.5 878.1L132.2 870.9zM138.6 865.2L144.7 869.6L142.4 876.8L134.8 876.8L132.5 869.6zM138.9 863.8L145 868.2L142.7 875.4L135.1 875.4L132.8 868.2zM139.2 862.3L145.3 866.7L143 873.9L135.5 873.9L133.1 866.7zM139.6 860.7L145.6 865.2L143.3 872.3L135.8 872.3L133.5 865.2zM139.7 859.9L145.8 864.3L143.5 871.5L136 871.5L133.6 864.3zM139.9 859L146 863.4L143.7 870.6L136.1 870.6L133.8 863.4zM140.1 858L146.2 862.4L143.9 869.6L136.3 869.6L134 862.4zM140.3 856.9L146.4 861.4L144 868.5L136.5 868.5L134.2 861.4zM140.5 855.8L146.6 860.2L144.2 867.4L136.7 867.4L134.4 860.2zM140.7 854.5L146.8 858.9L144.4 866.1L136.9 866.1L134.6 858.9zM140.9 853L147 857.5L144.6 864.6L137.1 864.6L134.8 857.5zM141.1 851.4L147.2 855.8L144.8 863L137.3 863L135 855.8zM141.3 849.6L147.4 854L145 861.2L137.5 861.2L135.2 854zM141.5 847.7L147.6 852.2L145.3 859.3L137.7 859.3L135.4 852.2zM141.7 845.8L147.8 850.2L145.5 857.4L138 857.4L135.6 850.2zM142 843.9L148.1 848.3L145.7 855.5L138.2 855.5L135.9 848.3zM142.2 842L148.3 846.4L146 853.5L138.4 853.5L136.1 846.4zM142.4 839.9L148.5 844.4L146.2 851.5L138.7 851.5L136.4 844.4zM142.7 837.8L148.8 842.3L146.5 849.4L138.9 849.4L136.6 842.3zM143 835.7L149 840.1L146.7 847.3L139.2 847.3L136.9 840.1zM143.2 833.6L149.3 838L147 845.2L139.5 845.2L137.1 838zM143.5 831.6L149.6 836L147.3 843.2L139.7 843.2L137.4 836zM143.8 829.7L149.9 834.1L147.5 841.3L140 841.3L137.7 834.1zM144.1 827.9L150.2 832.4L147.8 839.5L140.3 839.5L138 832.4zM144.4 826.2L150.5 830.6L148.1 837.8L140.6 837.8L138.3 830.6zM144.7 824.4L150.8 828.8L148.5 836L140.9 836L138.6 828.8zM145 822.3L151.1 826.8L148.8 833.9L141.3 833.9L138.9 826.8zM145.4 819.9L151.4 824.3L149.1 831.5L141.6 831.5L139.3 824.3zM145.7 816.9L151.8 821.4L149.5 828.5L141.9 828.5L139.6 821.4zM146.1 813.5L152.1 817.9L149.8 825.1L142.3 825.1L140 817.9zM146.4 809.6L152.5 814L150.2 821.2L142.7 821.2L140.3 814zM146.8 805.3L152.9 809.7L150.6 816.9L143 816.9L140.7 809.7zM147.2 800.6L153.3 805.1L151 812.2L143.4 812.2L141.1 805.1zM147.6 795.8L153.7 800.2L151.4 807.3L143.9 807.3L141.5 800.2zM148.1 790.7L154.1 795.2L151.8 802.3L144.3 802.3L142 795.2zM148.5 785.7L154.6 790.1L152.3 797.3L144.7 797.3L142.4 790.1zM149 780.7L155 785.1L152.7 792.3L145.2 792.3L142.9 785.1zM149.4 775.4L155.5 779.9L153.2 787L145.7 787L143.4 779.9zM149.9 770L156 774.4L153.7 781.5L146.2 781.5L143.9 774.4zM150.5 764.3L156.6 768.7L154.2 775.9L146.7 775.9L144.4 768.7zM151 758.5L157.1 762.9L154.8 770L147.3 770L144.9 762.9zM151.6 752.5L157.7 756.9L155.4 764.1L147.8 764.1L145.5 756.9zM152.2 746.5L158.3 750.9L156 758.1L148.4 758.1L146.1 750.9zM152.8 740.4L158.9 744.8L156.6 752L149.1 752L146.7 744.8zM153.5 734.1L159.6 738.5L157.2 745.7L149.7 745.7L147.4 738.5zM154.2 727.6L160.2 732.1L157.9 739.2L150.4 739.2L148.1 732.1zM154.9 721.1L161 725.5L158.6 732.7L151.1 732.7L148.8 725.5zM155.6 714.4L161.7 718.8L159.4 726L151.9 726L149.5 718.8zM156.4 707.7L162.5 712.1L160.2 719.3L152.7 719.3L150.3 712.1zM157.3 700.9L163.4 705.3L161 712.5L153.5 712.5L151.2 705.3zM158.2 693.9L164.3 698.3L161.9 705.5L154.4 705.5L152.1 698.3zM159.1 686.7L165.2 691.1L162.9 698.2L155.3 698.2L153 691.1zM160.1 679L166.2 683.4L163.9 690.6L156.3 690.6L154 683.4zM161.2 671L167.2 675.4L164.9 682.6L157.4 682.6L155.1 675.4zM162.3 662.8L168.4 667.2L166 674.4L158.5 674.4L156.2 667.2zM163.5 654.4L169.6 658.9L167.2 666L159.7 666L157.4 658.9zM164.7 646L170.8 650.4L168.5 657.6L161 657.6L158.7 650.4zM166.1 638.6L172.2 643L169.9 650.1L162.3 650.1L160 643zM167.6 632L173.6 636.4L171.3 643.6L163.8 643.6L161.5 636.4zM169.1 625.7L175.2 630.2L172.9 637.3L165.4 637.3L163 630.2zM170.8 619.5L176.9 623.9L174.6 631.1L167 631.1L164.7 623.9zM172.6 613.6L178.7 618L176.4 625.2L168.9 625.2L166.5 618zM174.6 608.7L180.7 613.1L178.4 620.2L170.8 620.2L168.5 613.1zM176.7 604.2L182.8 608.6L180.5 615.8L173 615.8L170.7 608.6zM179.1 600.5L185.2 604.9L182.8 612.1L175.3 612.1L173 604.9zM181.6 597.3L187.7 601.7L185.4 608.8L177.9 608.8L175.6 601.7zM184.5 594.8L190.5 599.2L188.2 606.4L180.7 606.4L178.4 599.2zM187.6 592.9L193.7 597.3L191.3 604.4L183.8 604.4L181.5 597.3zM191 592L197.1 596.4L194.8 603.6L187.3 603.6L184.9 596.4zM194.9 591.8L201 596.2L198.7 603.4L191.1 603.4L188.8 596.2zM199.2 592.5L205.3 597L203 604.1L195.5 604.1L193.2 597zM204.2 594.4L210.3 598.8L207.9 606L200.4 606L198.1 598.8zM209.8 597.8L215.9 602.2L213.6 609.3L206 609.3L203.7 602.2zM216.3 603.1L222.4 607.5L220.1 614.6L212.5 614.6L210.2 607.5zM223.9 610L230 614.4L227.7 621.6L220.1 621.6L217.8 614.4zM232.9 618.5L238.9 622.9L236.6 630L229.1 630L226.8 622.9zM243.6 629.2L249.7 633.6L247.4 640.7L239.8 640.7L237.5 633.6zM244.8 630.5L250.9 634.9L248.6 642.1L241 642.1L238.7 634.9zM246 631.9L252.1 636.3L249.8 643.5L242.3 643.5L239.9 636.3zM247.3 633.3L253.4 637.7L251 644.9L243.5 644.9L241.2 637.7zM248.5 634.7L254.6 639.1L252.3 646.3L244.8 646.3L242.5 639.1zM249.8 636.1L255.9 640.5L253.6 647.7L246.1 647.7L243.8 640.5zM251.2 637.5L257.2 641.9L254.9 649.1L247.4 649.1L245.1 641.9zM252.5 638.9L258.6 643.3L256.3 650.5L248.8 650.5L246.4 643.3zM253.9 640.3L260 644.7L257.7 651.9L250.1 651.9L247.8 644.7zM255.3 641.7L261.4 646.2L259.1 653.3L251.6 653.3L249.2 646.2zM256.8 643.2L262.8 647.6L260.5 654.7L253 654.7L250.7 647.6zM258.2 644.6L264.3 649L262 656.2L254.5 656.2L252.1 649zM259.7 646L265.8 650.4L263.5 657.6L256 657.6L253.7 650.4zM261.3 647.4L267.4 651.9L265.1 659L257.5 659L255.2 651.9zM262.9 648.8L269 653.2L266.6 660.4L259.1 660.4L256.8 653.2zM264.5 650.2L270.6 654.6L268.3 661.8L260.7 661.8L258.4 654.6zM266.1 651.5L272.2 655.9L269.9 663.1L262.4 663.1L260.1 655.9zM267.8 652.9L273.9 657.3L271.6 664.5L264.1 664.5L261.8 657.3zM269.6 654.4L275.7 658.8L273.3 665.9L265.8 665.9L263.5 658.8zM271.4 655.9L277.4 660.3L275.1 667.5L267.6 667.5L265.3 660.3zM273.2 657.6L279.3 662L277 669.2L269.4 669.2L267.1 662zM275.1 659.4L281.1 663.8L278.8 671L271.3 671L269 663.8zM277 661.3L283.1 665.7L280.7 672.9L273.2 672.9L270.9 665.7zM279 663.3L285 667.7L282.7 674.8L275.2 674.8L272.9 667.7zM281 665.3L287.1 669.7L284.7 676.8L277.2 676.8L274.9 669.7zM283 667.3L289.1 671.7L286.8 678.9L279.3 678.9L277 671.7zM285.2 669.3L291.3 673.7L288.9 680.8L281.4 680.8L279.1 673.7zM287.4 671.3L293.5 675.7L291.1 682.8L283.6 682.8L281.3 675.7zM289.6 673.3L295.7 677.7L293.4 684.8L285.9 684.8L283.5 677.7zM291.9 675.3L298 679.7L295.7 686.9L288.2 686.9L285.8 679.7zM294.3 677.4L300.4 681.8L298.1 689L290.6 689L288.2 681.8zM296.8 679.4L302.9 683.9L300.5 691L293 691L290.7 683.9zM299.3 681.5L305.4 685.9L303 693.1L295.5 693.1L293.2 685.9zM301.9 683.6L308 688L305.6 695.2L298.1 695.2L295.8 688zM304.6 685.7L310.6 690.1L308.3 697.3L300.8 697.3L298.5 690.1zM307.3 687.8L313.4 692.2L311.1 699.3L303.6 699.3L301.2 692.2zM310.2 689.9L316.2 694.3L313.9 701.4L306.4 701.4L304.1 694.3zM313.1 692L319.2 696.4L316.9 703.6L309.3 703.6L307 696.4zM316.1 694.2L322.2 698.6L319.9 705.8L312.4 705.8L310 698.6zM319.3 696.4L325.3 700.8L323 708L315.5 708L313.2 700.8zM322.5 698.7L328.6 703.1L326.2 710.2L318.7 710.2L316.4 703.1zM325.8 701L331.9 705.4L329.6 712.6L322.1 712.6L319.7 705.4zM329.3 703.3L335.4 707.8L333 714.9L325.5 714.9L323.2 707.8zM332.9 705.7L339 710.2L336.6 717.3L329.1 717.3L326.8 710.2zM336.6 708.2L342.7 712.6L340.3 719.8L332.8 719.8L330.5 712.6zM340.4 710.7L346.5 715.1L344.2 722.3L336.6 722.3L334.3 715.1zM344.4 713.2L350.5 717.7L348.2 724.8L340.6 724.8L338.3 717.7zM348.5 715.9L354.6 720.3L352.3 727.4L344.8 727.4L342.4 720.3zM352.8 718.6L358.9 723L356.6 730.1L349.1 730.1L346.7 723zM357.3 721.3L363.4 725.7L361 732.9L353.5 732.9L351.2 725.7zM361.9 724.1L368 728.5L365.7 735.6L358.2 735.6L355.8 728.5zM366.8 726.8L372.8 731.2L370.5 738.4L363 738.4L360.7 731.2zM371.8 729.5L377.9 733.9L375.5 741L368 741L365.7 733.9zM377 732L383.1 736.5L380.8 743.6L373.3 743.6L370.9 736.5zM382.5 734.5L388.6 738.9L386.3 746.1L378.7 746.1L376.4 738.9zM388.2 736.8L394.3 741.2L392 748.4L384.5 748.4L382.1 741.2zM394.2 739L400.3 743.5L398 750.6L390.4 750.6L388.1 743.5zM400.4 741.3L406.5 745.7L404.2 752.9L396.7 752.9L394.4 745.7zM407 743.8L413.1 748.2L410.8 755.3L403.2 755.3L400.9 748.2zM413.9 746.5L420 750.9L417.6 758L410.1 758L407.8 750.9zM421.1 749.6L427.2 754L424.8 761.2L417.3 761.2L415 754zM428.7 752.9L434.7 757.3L432.4 764.5L424.9 764.5L422.6 757.3zM436.6 755.8L442.7 760.2L440.4 767.4L432.9 767.4L430.6 760.2zM445.1 758.4L451.1 762.8L448.8 770L441.3 770L439 762.8zM453.9 761.1L460 765.5L457.7 772.6L450.2 772.6L447.9 765.5zM463.3 764.1L469.4 768.5L467.1 775.7L459.6 775.7L457.2 768.5zM473.3 767.2L479.4 771.6L477 778.7L469.5 778.7L467.2 771.6zM483.8 770L489.9 774.4L487.6 781.6L480.1 781.6L477.7 774.4zM495 773.4L501.1 777.9L498.8 785L491.3 785L488.9 777.9zM506.9 777L513 781.4L510.7 788.6L503.2 788.6L500.9 781.4zM519.7 779.7L525.8 784.1L523.4 791.3L515.9 791.3L513.6 784.1zM533.3 783L539.4 787.4L537 794.6L529.5 794.6L527.2 787.4zM547.8 786.1L553.9 790.6L551.6 797.7L544.1 797.7L541.8 790.6zM563.5 789.3L569.6 793.7L567.3 800.8L559.7 800.8L557.4 793.7zM580.3 792.2L586.4 796.6L584.1 803.7L576.6 803.7L574.3 796.6zM598.5 795.5L604.6 800L602.3 807.1L594.8 807.1L592.5 800zM618.3 798.4L624.3 802.9L622 810L614.5 810L612.2 802.9zM639.7 801.8L645.8 806.2L643.5 813.4L635.9 813.4L633.6 806.2z" fill="#0030A0"/>
<text x="197.5" y="857.2" font-size="29.5">experiment</text>
<path d="M367.3 844.4L379.7 844.4L373.5 854.2z" fill="#F7B500"/>
<text x="462.5" y="857.2" font-size="29.5">theory</text>
<path d="M574.8 841.4L580.9 845.8L578.6 853L571 853L568.7 845.8z" fill="#0030A0"/>
<rect x="125.3" y="493.6" width="532.4" height="395.7" fill="none" stroke="#000" stroke-width="2.2"/>
<text x="115.1" y="899.6" font-size="30" text-anchor="end">0</text>
<text x="115.1" y="767.7" font-size="30" text-anchor="end">0.01</text>
<text x="115.1" y="635.8" font-size="30" text-anchor="end">0.02</text>
<text x="115.1" y="503.9" font-size="30" text-anchor="end">0.03</text>
<text x="128.9" y="920.2" font-size="30" text-anchor="middle">0</text>
<text x="247.2" y="920.2" font-size="30" text-anchor="middle">100</text>
<text x="365.5" y="920.2" font-size="30" text-anchor="middle">200</text>
<text x="483.8" y="920.2" font-size="30" text-anchor="middle">300</text>
<text x="602.1" y="920.2" font-size="30" text-anchor="middle">400</text>
<text x="360.6" y="950.6" font-size="30"><tspan font-style="italic">T</tspan><tspan dx="-2.3"> (K)</tspan></text>
<text transform="translate(44.5,818.7) rotate(-90)" font-size="30">χ<tspan font-size="23" dy="9.5">M</tspan><tspan dy="-9.5"> (erg G</tspan><tspan font-size="23" dy="-14.8">−2</tspan><tspan dy="14.8">mole</tspan><tspan font-size="23" dy="-14.8">−1</tspan><tspan dy="14.8">)</tspan></text>
<rect x="431.6" y="507.8" width="199.39999999999998" height="162.40000000000003" fill="#fff"/>
<path d="M431.6 663.7L434.2 663.7M631 663.7L628.4 663.7M431.6 657.2L434.2 657.2M631 657.2L628.4 657.2M431.6 650.7L434.2 650.7M631 650.7L628.4 650.7M431.6 644.2L434.2 644.2M631 644.2L628.4 644.2M431.6 637.7L436.6 637.7M631 637.7L626 637.7M431.6 631.2L434.2 631.2M631 631.2L628.4 631.2M431.6 624.7L434.2 624.7M631 624.7L628.4 624.7M431.6 618.2L434.2 618.2M631 618.2L628.4 618.2M431.6 611.7L434.2 611.7M631 611.7L628.4 611.7M431.6 605.2L436.6 605.2M631 605.2L626 605.2M431.6 598.7L434.2 598.7M631 598.7L628.4 598.7M431.6 592.2L434.2 592.2M631 592.2L628.4 592.2M431.6 585.8L434.2 585.8M631 585.8L628.4 585.8M431.6 579.3L434.2 579.3M631 579.3L628.4 579.3M431.6 572.8L436.6 572.8M631 572.8L626 572.8M431.6 566.3L434.2 566.3M631 566.3L628.4 566.3M431.6 559.8L434.2 559.8M631 559.8L628.4 559.8M431.6 553.3L434.2 553.3M631 553.3L628.4 553.3M431.6 546.8L434.2 546.8M631 546.8L628.4 546.8M431.6 540.3L436.6 540.3M631 540.3L626 540.3M431.6 533.8L434.2 533.8M631 533.8L628.4 533.8M431.6 527.3L434.2 527.3M631 527.3L628.4 527.3M431.6 520.8L434.2 520.8M631 520.8L628.4 520.8M431.6 514.3L434.2 514.3M631 514.3L628.4 514.3M444.9 670.2L444.9 667.6M444.9 507.8L444.9 510.4M458.2 670.2L458.2 667.6M458.2 507.8L458.2 510.4M471.5 670.2L471.5 667.6M471.5 507.8L471.5 510.4M484.8 670.2L484.8 667.6M484.8 507.8L484.8 510.4M498.1 670.2L498.1 665.2M498.1 507.8L498.1 512.8M511.4 670.2L511.4 667.6M511.4 507.8L511.4 510.4M524.7 670.2L524.7 667.6M524.7 507.8L524.7 510.4M537.9 670.2L537.9 667.6M537.9 507.8L537.9 510.4M551.2 670.2L551.2 667.6M551.2 507.8L551.2 510.4M564.5 670.2L564.5 665.2M564.5 507.8L564.5 512.8M577.8 670.2L577.8 667.6M577.8 507.8L577.8 510.4M591.1 670.2L591.1 667.6M591.1 507.8L591.1 510.4M604.4 670.2L604.4 667.6M604.4 507.8L604.4 510.4M617.7 670.2L617.7 667.6M617.7 507.8L617.7 510.4" stroke="#000" stroke-width="1.1" fill="none"/>
<path d="M425.3 666L437.7 666L431.5 675.9zM426.7 662.1L439.1 662.1L432.9 672zM428.1 658.2L440.5 658.2L434.3 668.1zM429.3 654.3L441.7 654.3L435.5 664.2zM430.5 650.3L442.9 650.3L436.7 660.2zM431.7 646.3L444.1 646.3L437.9 656.2zM432.8 642.3L445.2 642.3L439 652.2zM433.8 638.3L446.2 638.3L440 648.2zM434.8 634.3L447.2 634.3L441 644.2zM435.7 630.3L448.1 630.3L441.9 640.2zM436.4 626.2L448.8 626.2L442.6 636.1zM437.1 622.1L449.5 622.1L443.3 632zM437.8 618L450.2 618L444 627.9zM438.4 613.9L450.8 613.9L444.6 623.8zM439 609.8L451.4 609.8L445.2 619.7zM439.6 605.7L452 605.7L445.8 615.6zM440.1 601.6L452.5 601.6L446.3 611.5zM440.6 597.5L453 597.5L446.8 607.4zM441.6 593.5L454 593.5L447.8 603.4zM443 589.6L455.4 589.6L449.2 599.5zM447.8 576.9L460.2 576.9L454 586.8zM451.7 568.1L464.1 568.1L457.9 578zM454.8 562.4L467.2 562.4L461 572.3zM457.9 557.6L470.3 557.6L464.1 567.5zM460.9 553.2L473.3 553.2L467.1 563.1zM464.9 550L477.3 550L471.1 559.9zM468.4 546.5L480.8 546.5L474.6 556.4zM472.3 544L484.7 544L478.5 553.9zM477.6 541L490 541L483.8 550.9zM481.9 538.3L494.3 538.3L488.1 548.2zM488.1 536.6L500.5 536.6L494.3 546.5zM492.5 534.8L504.9 534.8L498.7 544.7zM496.9 533.5L509.3 533.5L503.1 543.4zM500.5 532.5L512.9 532.5L506.7 542.4zM504 531.7L516.4 531.7L510.2 541.6zM507.6 530.9L520 530.9L513.8 540.8zM511.2 530.1L523.6 530.1L517.4 540zM514.9 529.4L527.3 529.4L521.1 539.3zM518.5 528.6L530.9 528.6L524.7 538.5zM522.1 527.9L534.5 527.9L528.3 537.8zM525.7 527.2L538.1 527.2L531.9 537.1zM529.3 526.6L541.7 526.6L535.5 536.5zM533 526L545.4 526L539.2 535.9zM536.6 525.5L549 525.5L542.8 535.4zM540.3 525L552.7 525L546.5 534.9zM543.9 524.5L556.3 524.5L550.1 534.4zM547.6 524.1L560 524.1L553.8 534zM551.3 523.7L563.7 523.7L557.5 533.6zM554.9 523.4L567.3 523.4L561.1 533.3zM558.6 523.1L571 523.1L564.8 533zM562.3 522.8L574.7 522.8L568.5 532.7zM566 522.5L578.4 522.5L572.2 532.4zM569.6 522.2L582 522.2L575.8 532.1zM573.3 522L585.7 522L579.5 531.9zM577 521.7L589.4 521.7L583.2 531.6zM580.7 521.5L593.1 521.5L586.9 531.4zM584.3 521.2L596.7 521.2L590.5 531.1zM588 520.9L600.4 520.9L594.2 530.8zM591.7 520.7L604.1 520.7L597.9 530.6zM595.4 520.4L607.8 520.4L601.6 530.3zM599.1 520.2L611.5 520.2L605.3 530.1zM602.7 520L615.1 520L608.9 529.9zM606.4 519.7L618.8 519.7L612.6 529.6zM610.1 519.5L622.5 519.5L616.3 529.4zM613.8 519.3L626.2 519.3L620 529.2zM617.4 519L629.8 519L623.6 528.9zM621.1 518.8L633.5 518.8L627.3 528.7zM624.8 518.5L637.2 518.5L631 528.4z" fill="#F7B500"/>
<path d="M431.6 663.8L437.7 668.2L435.4 675.4L427.8 675.4L425.5 668.2zM433.2 663.6L439.3 668L437 675.2L429.5 675.2L427.1 668zM434.5 663.1L440.6 667.5L438.3 674.7L430.8 674.7L428.4 667.5zM435.5 662.1L441.6 666.5L439.2 673.7L431.7 673.7L429.4 666.5zM436.2 660.6L442.3 665.1L440 672.2L432.5 672.2L430.2 665.1zM436.9 659.3L443 663.7L440.7 670.8L433.1 670.8L430.8 663.7zM437.5 657.9L443.6 662.3L441.2 669.5L433.7 669.5L431.4 662.3zM438 656.4L444.1 660.9L441.7 668L434.2 668L431.9 660.9zM438.4 655L444.5 659.4L442.2 666.6L434.6 666.6L432.3 659.4zM438.8 653.6L444.9 658L442.6 665.2L435 665.2L432.7 658zM439.1 652.1L445.2 656.5L442.9 663.7L435.4 663.7L433.1 656.5zM439.5 650.7L445.6 655.1L443.2 662.2L435.7 662.2L433.4 655.1zM439.8 649.2L445.9 653.6L443.5 660.8L436 660.8L433.7 653.6zM440.1 647.7L446.1 652.1L443.8 659.3L436.3 659.3L434 652.1zM440.3 646.2L446.4 650.6L444.1 657.8L436.6 657.8L434.3 650.6zM440.6 644.7L446.7 649.2L444.4 656.3L436.9 656.3L434.5 649.2zM440.9 643.3L447 647.7L444.7 654.8L437.2 654.8L434.8 647.7zM441.2 641.8L447.3 646.2L445 653.4L437.5 653.4L435.1 646.2zM441.6 640.3L447.7 644.7L445.3 651.9L437.8 651.9L435.5 644.7zM441.9 638.9L448 643.3L445.7 650.4L438.2 650.4L435.8 643.3zM442.3 637.4L448.4 641.8L446 649L438.5 649L436.2 641.8zM442.6 635.9L448.7 640.4L446.4 647.5L438.9 647.5L436.5 640.4zM443 634.5L449.1 638.9L446.8 646.1L439.2 646.1L436.9 638.9zM443.4 633L449.5 637.4L447.1 644.6L439.6 644.6L437.3 637.4zM443.8 631.6L449.8 636L447.5 643.1L440 643.1L437.7 636zM444.1 630.1L450.2 634.5L447.9 641.7L440.4 641.7L438 634.5zM444.5 628.7L450.6 633.1L448.3 640.2L440.8 640.2L438.4 633.1zM444.9 627.2L451 631.6L448.7 638.8L441.2 638.8L438.8 631.6zM445.3 625.8L451.4 630.2L449.1 637.3L441.6 637.3L439.2 630.2zM445.7 624.3L451.8 628.7L449.5 635.9L442 635.9L439.6 628.7zM446.1 622.9L452.2 627.3L449.9 634.4L442.4 634.4L440 627.3zM446.5 621.4L452.6 625.8L450.3 633L442.8 633L440.5 625.8zM447 620L453.1 624.4L450.7 631.5L443.2 631.5L440.9 624.4zM447.4 618.5L453.5 622.9L451.2 630.1L443.6 630.1L441.3 622.9zM447.8 617.1L453.9 621.5L451.6 628.7L444.1 628.7L441.8 621.5zM448.3 615.7L454.4 620.1L452.1 627.2L444.5 627.2L442.2 620.1zM448.8 614.2L454.9 618.7L452.5 625.8L445 625.8L442.7 618.7zM449.3 612.8L455.4 617.2L453 624.4L445.5 624.4L443.2 617.2zM449.8 611.4L455.9 615.8L453.6 623L446 623L443.7 615.8zM450.4 610L456.4 614.4L454.1 621.6L446.6 621.6L444.3 614.4zM450.9 608.6L457 613.1L454.7 620.2L447.2 620.2L444.8 613.1zM451.5 607.2L457.6 611.7L455.3 618.8L447.8 618.8L445.4 611.7zM452.1 605.9L458.2 610.3L455.9 617.4L448.4 617.4L446 610.3zM452.7 604.5L458.8 608.9L456.5 616.1L449 616.1L446.7 608.9zM453.4 603.1L459.4 607.5L457.1 614.7L449.6 614.7L447.3 607.5zM454 601.8L460.1 606.2L457.7 613.3L450.2 613.3L447.9 606.2zM454.6 600.4L460.7 604.8L458.4 612L450.9 612L448.5 604.8zM455.3 599L461.4 603.5L459 610.6L451.5 610.6L449.2 603.5zM455.9 597.7L462 602.1L459.7 609.3L452.2 609.3L449.9 602.1zM456.6 596.4L462.7 600.8L460.4 607.9L452.9 607.9L450.5 600.8zM457.3 595L463.4 599.4L461.1 606.6L453.5 606.6L451.2 599.4zM458 593.7L464.1 598.1L461.7 605.2L454.2 605.2L451.9 598.1zM458.7 592.3L464.7 596.7L462.4 603.9L454.9 603.9L452.6 596.7zM459.3 591L465.4 595.4L463.1 602.6L455.6 602.6L453.3 595.4zM460 589.7L466.1 594.1L463.8 601.2L456.3 601.2L453.9 594.1zM460.7 588.3L466.8 592.7L464.5 599.9L457 599.9L454.6 592.7zM461.4 587L467.5 591.4L465.2 598.6L457.7 598.6L455.3 591.4zM462.1 585.6L468.2 590.1L465.8 597.2L458.3 597.2L456 590.1zM462.8 584.3L468.8 588.7L466.5 595.9L459 595.9L456.7 588.7zM463.4 582.9L469.5 587.4L467.2 594.5L459.7 594.5L457.3 587.4zM464.1 581.6L470.2 586L467.9 593.2L460.4 593.2L458 586zM464.9 580.3L471 584.7L468.6 591.9L461.1 591.9L458.8 584.7zM465.7 579L471.8 583.5L469.4 590.6L461.9 590.6L459.6 583.5zM466.5 577.8L472.6 582.2L470.3 589.4L462.7 589.4L460.4 582.2zM467.4 576.6L473.5 581L471.1 588.1L463.6 588.1L461.3 581zM468.3 575.4L474.4 579.8L472 586.9L464.5 586.9L462.2 579.8zM469.2 574.2L475.3 578.6L472.9 585.7L465.4 585.7L463.1 578.6zM470.1 573L476.2 577.4L473.9 584.5L466.3 584.5L464 577.4zM471 571.8L477.1 576.2L474.8 583.3L467.3 583.3L464.9 576.2zM472 570.6L478 575L475.7 582.2L468.2 582.2L465.9 575zM472.9 569.4L479 573.8L476.7 581L469.1 581L466.8 573.8zM473.9 568.3L480 572.7L477.7 579.8L470.1 579.8L467.8 572.7zM474.9 567.2L481 571.6L478.7 578.8L471.2 578.8L468.8 571.6zM476 566.2L482.1 570.6L479.7 577.7L472.2 577.7L469.9 570.6zM477.1 565.1L483.2 569.6L480.8 576.7L473.3 576.7L471 569.6zM478.2 564.1L484.3 568.6L482 575.7L474.5 575.7L472.1 568.6zM479.4 563.2L485.5 567.6L483.2 574.8L475.6 574.8L473.3 567.6zM480.6 562.2L486.7 566.7L484.3 573.8L476.8 573.8L474.5 566.7zM481.8 561.3L487.9 565.8L485.6 572.9L478 572.9L475.7 565.8zM483 560.4L489.1 564.9L486.8 572L479.3 572L476.9 564.9zM484.3 559.6L490.3 564L488 571.2L480.5 571.2L478.2 564zM485.5 558.8L491.6 563.2L489.3 570.4L481.7 570.4L479.4 563.2zM486.8 558L492.8 562.4L490.5 569.6L483 569.6L480.7 562.4zM488 557.2L494.1 561.6L491.8 568.8L484.3 568.8L482 561.6zM489.3 556.5L495.4 560.9L493.1 568L485.6 568L483.3 560.9zM490.7 555.7L496.8 560.1L494.4 567.3L486.9 567.3L484.6 560.1zM492 555L498.1 559.4L495.8 566.6L488.2 566.6L485.9 559.4zM493.3 554.3L499.4 558.7L497.1 565.9L489.6 565.9L487.3 558.7zM494.7 553.6L500.8 558.1L498.5 565.2L490.9 565.2L488.6 558.1zM496.1 553L502.1 557.4L499.8 564.6L492.3 564.6L490 557.4zM497.4 552.3L503.5 556.8L501.2 563.9L493.6 563.9L491.3 556.8zM498.8 551.7L504.9 556.1L502.5 563.3L495 563.3L492.7 556.1zM500.1 551.1L506.2 555.5L503.9 562.7L496.4 562.7L494 555.5zM501.5 550.5L507.6 554.9L505.3 562.1L497.8 562.1L495.4 554.9zM502.9 549.9L509 554.3L506.7 561.5L499.1 561.5L496.8 554.3zM504.3 549.3L510.4 553.7L508 560.9L500.5 560.9L498.2 553.7zM505.7 548.7L511.8 553.2L509.4 560.3L501.9 560.3L499.6 553.2zM507.1 548.2L513.2 552.6L510.8 559.8L503.3 559.8L501 552.6zM508.5 547.7L514.6 552.1L512.3 559.2L504.7 559.2L502.4 552.1zM509.9 547.1L516 551.6L513.7 558.7L506.1 558.7L503.8 551.6zM511.3 546.6L517.4 551.1L515.1 558.2L507.6 558.2L505.2 551.1zM512.8 546.2L518.8 550.6L516.5 557.8L509 557.8L506.7 550.6zM514.2 545.7L520.3 550.2L517.9 557.3L510.4 557.3L508.1 550.2zM515.6 545.3L521.7 549.7L519.4 556.9L511.9 556.9L509.5 549.7zM517.1 544.9L523.2 549.3L520.8 556.5L513.3 556.5L511 549.3zM518.5 544.6L524.6 549L522.3 556.1L514.8 556.1L512.4 549zM520 544.2L526.1 548.6L523.8 555.8L516.2 555.8L513.9 548.6zM525 542.9L531.1 547.3L528.7 554.5L521.2 554.5L518.9 547.3zM530 541.8L536.1 546.2L533.7 553.3L526.2 553.3L523.9 546.2zM535 540.8L541.1 545.2L538.8 552.4L531.3 552.4L528.9 545.2zM540.1 540L546.2 544.4L543.8 551.6L536.3 551.6L534 544.4zM545.2 539.3L551.2 543.7L548.9 550.9L541.4 550.9L539.1 543.7zM550.3 538.7L556.3 543.1L554 550.3L546.5 550.3L544.2 543.1zM555.4 538.1L561.5 542.5L559.1 549.7L551.6 549.7L549.3 542.5zM560.5 537.5L566.6 541.9L564.2 549.1L556.7 549.1L554.4 541.9zM565.6 537L571.7 541.4L569.3 548.6L561.8 548.6L559.5 541.4zM570.7 536.5L576.8 540.9L574.4 548L566.9 548L564.6 540.9zM575.8 536L581.9 540.4L579.5 547.6L572 547.6L569.7 540.4zM580.9 535.6L587 540L584.7 547.1L577.1 547.1L574.8 540zM586 535.2L592.1 539.6L589.8 546.7L582.3 546.7L579.9 539.6zM591.1 534.8L597.2 539.2L594.9 546.4L587.4 546.4L585 539.2zM596.3 534.4L602.3 538.9L600 546L592.5 546L590.2 538.9zM601.4 534.1L607.5 538.5L605.1 545.7L597.6 545.7L595.3 538.5zM606.5 533.8L612.6 538.2L610.3 545.4L602.7 545.4L600.4 538.2zM611.6 533.5L617.7 537.9L615.4 545.1L607.9 545.1L605.5 537.9zM616.7 533.2L622.8 537.6L620.5 544.8L613 544.8L610.7 537.6zM621.9 533L628 537.4L625.6 544.5L618.1 544.5L615.8 537.4zM627 532.7L633.1 537.1L630.8 544.3L623.2 544.3L620.9 537.1z" fill="#0030A0"/>
<rect x="431.6" y="507.8" width="199.4" height="162.4" fill="none" stroke="#000" stroke-width="2.1"/>
<text x="420.4" y="676.8" font-size="22" text-anchor="end">0</text>
<text x="420.4" y="644.3" font-size="22" text-anchor="end">1</text>
<text x="420.4" y="611.8" font-size="22" text-anchor="end">2</text>
<text x="420.4" y="579.4" font-size="22" text-anchor="end">3</text>
<text x="420.4" y="546.9" font-size="22" text-anchor="end">4</text>
<text x="420.4" y="514.4" font-size="22" text-anchor="end">5</text>
<text x="434.8" y="698.5" font-size="22" text-anchor="middle">0</text>
<text x="501.3" y="698.5" font-size="22" text-anchor="middle">100</text>
<text x="567.7" y="698.5" font-size="22" text-anchor="middle">200</text>
<text x="634.2" y="698.5" font-size="22" text-anchor="middle">300</text>
<text x="506.8" y="720.8" font-size="22"><tspan font-style="italic">T</tspan> (K)</text>
<text transform="translate(391,646) rotate(-90)" font-size="22.5">μ<tspan font-size="16" dy="5">eff</tspan><tspan dy="-5"> (μ</tspan><tspan font-size="16" dy="5">B</tspan><tspan dy="-5">/f.u.)</tspan></text>
</g></svg>
</body></html>
